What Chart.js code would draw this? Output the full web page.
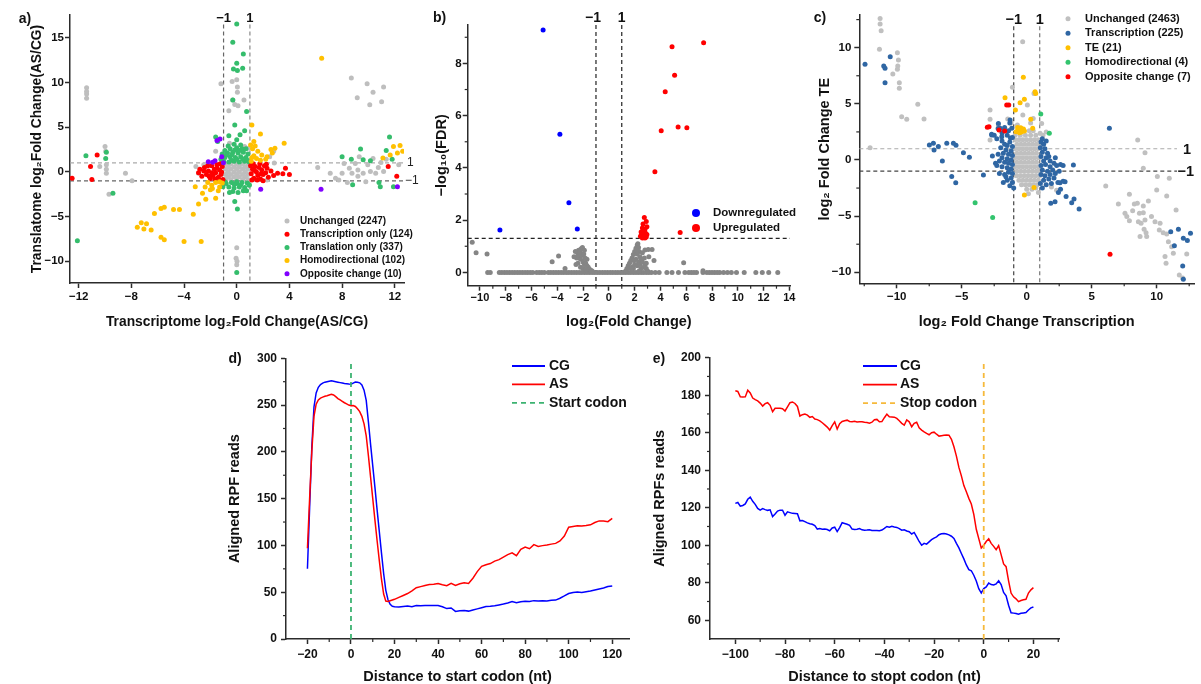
<!DOCTYPE html>
<html>
<head>
<meta charset="utf-8">
<script src="https://cdn.jsdelivr.net/npm/chart.js@4.4.0/dist/chart.umd.min.js"></script>
<style>
  body { margin: 0; background: #fff; width: 1201px; height: 684px; position: relative; overflow: hidden; }
  canvas { position: absolute; }
</style>
</head>
<body>
<canvas id="chartA" width="425" height="335" style="left:0;top:0"></canvas>
<canvas id="chartB" width="375" height="335" style="left:425px;top:0"></canvas>
<canvas id="chartC" width="401" height="335" style="left:800px;top:0"></canvas>
<canvas id="chartD" width="445" height="344" style="left:200px;top:340px"></canvas>
<canvas id="chartE" width="430" height="344" style="left:640px;top:340px"></canvas>
<script>
// ---- panel a: translatome vs transcriptome ----
const aLabels = ['Unchanged (2247)', 'Transcription only (124)', 'Translation only (337)', 'Homodirectional (102)', 'Opposite change (10)'];
const aUnchanged = [[-11.4,9.4],[-11.4,9.0],[-11.4,8.7],[-11.4,8.25],[-10.0,2.85],[-9.95,2.3],[-9.9,0.8],[-9.9,0.3],[-9.9,-0.15],[-10.4,0.6],[-8.45,-0.15],[-7.95,-1.0],[-9.7,-2.5],
  [-1.2,9.85],[-0.35,10.1],[0,10.3],[0.05,9.5],[0.05,8.9],[-0.3,8.05],[-0.15,7.55],[0.1,7.4],[-0.6,6.85],[0.55,8.05],
  [0,-8.5],[-0.05,-9.65],[0.02,-10.0],[0,-10.4],
  [8.7,10.5],[9.9,9.85],[9.15,8.3],[10.35,8.9],[10.1,7.5],[11.15,9.5],[11.0,7.85],
  [6.15,0.5],[7.1,-0.15],[7.5,-0.7],[8.0,-0.15],[8.15,0.95],[8.55,0.4],[8.75,-0.15],[9.0,0.95],[9.2,0.2],[9.3,1.7],[9.6,-0.15],[9.8,-1.1],[9.95,0.8],[10.15,0.05],[10.35,1.5],[10.55,-0.15],[10.75,0.5],[10.95,1.05],[11.15,0.05],[11.35,1.4],[12.3,0.8],[8.4,-1.2],[7.75,-0.9],[9.2,-0.5],
  [-2.9,-0.15],[-3.1,0.6],[-2.5,0.8],[2.5,1.7],[2.8,2.3],[2.85,1.0],[2.3,-0.9],[-1.6,2.3],[-0.55,3.2],[0.6,2.85],[0.9,2.65]];
const aUnchangedCore = [[-0.85,0.85],[-0.45,0.85],[0,0.85],[0.45,0.85],[0.85,0.85],[-0.65,0.55],[-0.2,0.55],[0.2,0.55],[0.65,0.55],
  [-0.85,0.3],[-0.45,0.3],[0,0.3],[0.45,0.3],[0.85,0.3],[-0.65,0],[-0.2,0],[0.2,0],[0.65,0],
  [-0.85,-0.3],[-0.45,-0.3],[0,-0.3],[0.45,-0.3],[0.85,-0.3],[-0.65,-0.55],[-0.2,-0.55],[0.2,-0.55],[0.65,-0.55],
  [-0.85,-0.85],[-0.45,-0.85],[0,-0.85],[0.45,-0.85],[0.85,-0.85]];
const aTranscription = [[-2.9,-0.1],[-2.8,0.3],[-2.65,-0.5],[-2.45,0.5],[-2.3,-0.3],[-2.15,0.1],[-2.0,-0.75],[-1.9,0.7],[-1.8,-0.4],[-1.7,0.3],[-1.6,-0.1],[-1.5,0.8],[-1.4,-0.6],[-1.3,0.2],[-1.2,-0.3],[-1.1,0.6],[-1.05,-0.85],[-1.5,0.4],[-2.2,0.7],[-1.9,-0.1],[-1.3,-0.9],[-2.5,0.1],[-1.15,0.0],[-2.1,-0.5],[-1.25,0.9],[-1.65,-0.8],
  [1.05,0.7],[1.1,-0.2],[1.2,0.3],[1.3,-0.7],[1.4,0.6],[1.5,0.0],[1.6,-0.4],[1.7,0.5],[1.8,-0.8],[1.9,0.2],[2.0,-0.3],[2.1,0.7],[2.2,-0.1],[2.3,0.4],[2.4,-0.6],[1.25,0.9],[1.55,-0.9],[1.75,0.9],[2.6,0.1],[2.8,-0.4],[3.1,-0.15],[3.5,-0.2],[3.7,0.4],[4.0,-0.3],[2.0,-1.0],[1.15,-0.9],[1.35,0.15],[1.85,-0.2],[2.25,0.85],
  [-12.5,-0.7],[-11.1,0.6],[-11.0,-0.85],[-10.6,1.9],[11.5,0.6],[12.15,-0.5]];
const aTranslation = [[0,16.55],[-0.3,14.5],[0,12.15],[0.5,13.2],[-0.25,11.5],[0.05,11.35],[0.45,11.6],[-0.3,8.05],[0.75,6.75],[-0.15,5.25],[-0.6,4.05],[0.25,4.15],[0.6,4.6],[0,3.6],[-1.6,3.9],[-1.45,3.4],[-0.15,-3.3],[0.05,-4.15],[0,-11.25],[0.75,-2.1],[-0.55,-2.3],[-1.05,-1.65],[0.95,-1.45],
  [-1.0,1.2],[-0.6,1.1],[-0.2,1.2],[0.2,1.1],[0.6,1.2],[0.95,1.1],[-0.9,1.6],[-0.5,1.7],[-0.1,1.6],[0.3,1.7],[0.7,1.6],[-0.7,2.1],[-0.3,2.2],[0.1,2.1],[0.5,2.2],[0.85,2.0],[-0.5,2.6],[0,2.7],[0.4,2.6],[-0.9,2.4],[-0.2,3.1],[0.3,3.0],[-1.2,1.4],[-1.1,2.0],[-0.8,1.9],[0,1.4],[0.45,1.45],[-0.35,1.95],[0.2,2.4],[0.7,2.6],[-0.65,2.9],[-0.4,1.3],[0.8,1.3],[-0.15,2.45],
  [-0.8,-1.3],[-0.4,-1.2],[0,-1.3],[0.4,-1.2],[0.8,-1.25],[-0.6,-1.7],[-0.2,-1.8],[0.2,-1.7],[0.6,-1.75],[-0.3,-2.2],[0.1,-2.3],[0.5,-2.1],[-0.9,-1.1],[0.95,-1.5],[0,-1.1],[-0.2,-1.35],[0.3,-1.45],
  [-11.45,1.8],[-9.9,2.2],[-9.95,1.5],[-9.4,-2.4],[-12.1,-7.7],
  [8.0,1.7],[8.7,1.4],[9.4,2.55],[9.6,1.35],[10.15,1.25],[8.8,-1.45],[10.8,-1.2],[10.9,-1.65],[11.6,3.9],[11.35,2.4],[11.8,1.4],[11.9,-1.65]];
const aHomo = [[1.15,5.25],[1.8,4.25],[3.6,3.2],[2.9,2.65],[2.3,1.7],[2.7,2.1],[1.1,1.2],[1.3,1.8],[1.2,2.6],[1.5,1.5],[1.6,2.3],[1.8,1.3],[1.05,3.0],[1.4,2.9],[1.9,1.9],[2.2,1.4],[2.6,2.5],[1.15,1.6],[1.3,3.4],
  [-1.1,-1.25],[-1.3,-1.7],[-1.6,-1.2],[-1.9,-1.5],[-2.2,-1.2],[-1.4,-2.1],[-2.0,-2.0],[-2.6,-2.4],[-1.85,-1.85],[-1.6,-2.95],[-2.35,-3.05],[-3.15,-1.65],[-2.9,-3.6],[-1.3,-1.1],[-2.4,-1.7],
  [-4.8,-4.2],[-4.35,-4.2],[-3.3,-4.75],[-6.25,-4.65],[-5.75,-4.1],[-5.5,-3.95],[-7.55,-6.2],[-7.25,-5.7],[-7.05,-6.4],[-6.85,-5.8],[-6.5,-6.5],[-5.75,-7.3],[-5.5,-7.6],[-4.0,-7.8],[-2.7,-7.8],
  [6.45,12.7],[11.9,2.85],[12.4,2.95],[12.2,2.1],[11.65,1.9],[11.1,1.55],[12.6,2.3]];
const aOpposite = [[-1.5,3.5],[-1.27,3.68],[-2.16,1.14],[-1.82,1.07],[-1.65,1.25],[-1.14,1.7],[-1.01,1.03],[1.82,-1.95],[6.4,-1.95],[12.2,-1.65]];
const aTicksX = [-12, -8, -4, 0, 4, 8, 12];
const aTicksY = [-10, -5, 0, 5, 10, 15];

// ---- panel b: volcano ----
const bLabels = ['Downregulated', 'Upregulated'];
const bDown = [[-5.1,9.28],[-3.8,5.29],[-3.1,2.67],[-2.45,1.66],[-8.45,1.62]];
const bUp = [[4.9,8.64],[7.35,8.79],[5.1,7.55],[4.37,6.91],[4.06,5.42],[5.37,5.57],[6.05,5.54],[3.57,3.85],[5.53,1.53],
  [2.75,2.1],[2.9,1.95],[2.65,1.85],[2.95,1.75],[2.6,1.7],[2.8,1.65],[2.7,1.58],[2.5,1.55],[2.85,1.5],[2.95,1.45],[2.55,1.45],[2.65,1.4],[2.45,1.38],[2.75,1.38],[2.9,1.35],[2.6,1.32],[2.8,1.32]];
const bNotSig = [[-9.4,0],[-9.2,0],[-8.5,0],[-8.3,0],[-8.1,0],[-7.9,0],[-7.7,0],[-7.5,0],[-7.3,0],[-7.1,0],[-6.9,0],[-6.7,0],[-6.5,0],[-6.3,0],[-6.1,0],[-5.9,0],[-5.6,0],[-5.4,0],[-5.2,0],[-5.0,0],[-4.7,0],[-4.5,0],[-4.3,0],[-4.1,0],[-3.9,0],[-3.7,0],[-3.5,0],[-3.3,0],[-3.1,0],[-2.9,0],[-2.7,0],[-2.5,0],[-2.3,0],[-2.1,0],[-1.9,0],[-1.7,0],[-1.5,0],[-1.3,0],[-1.1,0],[-0.9,0],[-0.7,0],[-0.5,0],[-0.3,0],[-0.1,0],[0.1,0],[0.3,0],[0.5,0],[0.7,0],[0.9,0],[1.1,0],[1.3,0],[1.5,0],[1.7,0],[1.9,0],[2.1,0],[2.3,0],[2.5,0],[2.7,0],[2.9,0],[3.1,0],[3.3,0],[3.6,0],[3.9,0],[4.5,0],[4.9,0],[5.4,0],[5.9,0],[6.2,0],[6.4,0],[6.6,0],[6.8,0],[7.3,0],[7.6,0],[7.8,0],[8.0,0],[8.2,0],[8.4,0],[8.6,0],[8.9,0],[9.2,0],[9.5,0],[9.9,0],[10.5,0],[11.4,0],[11.9,0],[12.4,0],[13.1,0],
  [-2.5,0.55],[-2.4,0.7],[-2.35,0.85],[-2.3,0.6],[-2.25,0.78],[-2.2,0.5],[-2.15,0.9],[-2.1,0.65],[-2.05,0.95],[-2.0,0.4],[-1.95,0.7],[-1.9,0.3],[-1.85,0.55],[-1.8,0.35],[-1.7,0.25],[-1.6,0.2],[-1.5,0.12],[-1.4,0.08],[-1.3,0.05],[-2.2,0.2],[-2.0,0.15],[-1.8,0.1],[-2.4,0.35],[-1.7,0.5],[-1.9,0.85],[-2.6,0.8],[-2.7,0.6],[-2.55,0.3],
  [1.3,0.05],[1.4,0.15],[1.5,0.25],[1.6,0.35],[1.7,0.45],[1.8,0.55],[1.9,0.68],[2.0,0.8],[2.1,0.92],[2.2,1.05],[2.25,1.1],[2.3,0.95],[2.35,0.8],[2.4,0.6],[2.3,0.4],[2.2,0.25],[2.1,0.5],[2.0,0.3],[1.9,0.15],[1.8,0.2],[2.2,0.7],[2.4,0.3],[2.5,0.15],[2.6,0.4],[2.7,0.2],[2.15,0.85],[1.95,0.45],[1.7,0.15],[2.35,0.05],[2.5,0.5],[2.8,0.3],[2.9,0.15],[3.0,0.05],
  [2.8,0.86],[3.05,0.88],[3.35,0.88],[2.6,0.75],[2.75,0.55],[3.1,0.6],[3.5,0.45],[2.9,0.35],
  [-10.6,1.15],[-10.3,0.75],[-9.45,0.7],[-4.4,0.41],[-3.9,0.63],[-3.4,0.15],[5.8,0.37],[7.3,0.06]];
const bTicksX = [-10, -8, -6, -4, -2, 0, 2, 4, 6, 8, 10, 12, 14];
const bTicksY = [0, 2, 4, 6, 8];

// ---- panel c: TE vs transcription ----
const cLabels = ['Unchanged (2463)', 'Transcription (225)', 'TE (21)', 'Homodirectional (4)', 'Opposite change (7)'];
const cUnchanged = [[-11.28,12.6],[-11.28,12.1],[-11.2,11.5],[-11.33,9.85],[-9.95,9.55],[-9.87,8.9],[-9.92,8.37],[-9.95,8.07],[-10.3,7.65],[-9.8,6.88],[-9.8,6.38],[-8.38,4.96],[-9.62,3.86],[-9.23,3.62],[-7.9,3.65],[-12.05,1.1],
  [8.54,1.78],[9.1,0.65],[8.97,-0.74],[10.05,-1.48],[10.97,-1.63],[6.08,-2.31],[7.05,-3.92],[7.9,-3.06],[7.56,-4.75],[7.7,-5.04],[8.15,-4.51],[8.28,-3.92],[8.51,-3.86],[8.67,-4.75],[8.97,-4.69],[9.36,-3.65],[8.97,-4.1],[7.9,-5.4],[8.59,-5.49],[8.8,-5.64],[9.1,-5.34],[9.03,-6.17],[9.18,-6.47],[9.6,-5.04],[9.87,-5.49],[10.26,-5.64],[10.2,-6.23],[10.0,-2.67],[10.77,-3.2],[11.49,-4.45],[10.5,-6.47],[10.77,-6.59],[10.9,-7.27],[10.64,-8.6],[10.72,-9.2],[11.15,-7.72],[11.28,-8.31],[11.74,-10.24],[12.0,-10.5],[12.31,-8.37],[9.23,-6.82],[8.72,-6.82],
  [-0.31,10.53],[-1.1,6.47],[0.56,5.93],[0.05,4.9],[-2.82,4.45],[-0.3,4.0],[0.5,3.7],[-2.82,3.62],[-1.46,3.65],[-2.18,3.12],[-0.72,3.12],[1.03,2.37],[1.15,3.26],[-2.82,1.78],[1.25,2.2],[1.5,2.5],[1.9,-2.4],[2.3,-2.7],[0.9,-2.9],[0.13,-3.0],[-1.2,3.3],[0.3,3.3]];
const cUnchangedCore = [[-0.6,2.6],[-0.2,2.6],[0.2,2.6],[0.5,2.6],
  [-0.9,2.2],[-0.5,2.2],[-0.1,2.2],[0.3,2.2],[0.7,2.2],
  [-0.9,1.8],[-0.6,1.8],[-0.3,1.8],[0,1.8],[0.3,1.8],[0.6,1.8],[0.9,1.8],
  [-0.75,1.4],[-0.45,1.4],[-0.15,1.4],[0.15,1.4],[0.45,1.4],[0.75,1.4],[1.05,1.4],
  [-0.9,1.0],[-0.6,1.0],[-0.3,1.0],[0,1.0],[0.3,1.0],[0.6,1.0],[0.9,1.0],
  [-0.75,0.6],[-0.45,0.6],[-0.15,0.6],[0.15,0.6],[0.45,0.6],[0.75,0.6],
  [-0.9,0.2],[-0.6,0.2],[-0.3,0.2],[0,0.2],[0.3,0.2],[0.6,0.2],[0.9,0.2],
  [-0.75,-0.2],[-0.45,-0.2],[-0.15,-0.2],[0.15,-0.2],[0.45,-0.2],[0.75,-0.2],
  [-0.9,-0.6],[-0.6,-0.6],[-0.3,-0.6],[0,-0.6],[0.3,-0.6],[0.6,-0.6],[0.9,-0.6],
  [-0.75,-1.0],[-0.45,-1.0],[-0.15,-1.0],[0.15,-1.0],[0.45,-1.0],[0.75,-1.0],[1.0,-1.0],
  [-0.8,-1.4],[-0.5,-1.4],[-0.2,-1.4],[0.1,-1.4],[0.4,-1.4],[0.7,-1.4],[1.0,-1.4],
  [-0.6,-1.8],[-0.3,-1.8],[0,-1.8],[0.3,-1.8],[0.6,-1.8],[0.9,-1.8],
  [-0.4,-2.2],[-0.1,-2.2],[0.2,-2.2],[0.5,-2.2],[0.8,-2.2],
  [0,-2.6],[0.4,-2.6],[0.7,-2.5]];
const cTranscription = [[-12.44,8.52],[-10.5,9.2],[-11.0,8.37],[-10.9,8.16],[-10.9,6.88],[-7.49,1.34],[-7.18,1.48],[-7.13,0.89],[-6.8,1.19],[-6.15,1.48],[-5.64,1.48],[-5.44,1.31],[-6.49,-0.09],[-5.77,-1.48],[-5.46,-2.02],[-4.87,0.65],[-4.41,0.24],[-3.33,-1.34],[6.36,2.82],
  [1.85,-3.86],[2.18,-3.71],[3.03,-3.26],[3.46,-3.8],[3.64,-3.47],[4.03,-4.36],[3.59,-0.45],[2.44,-2.9],[2.56,-2.02],[2.95,-1.93],
  [11.08,-6.38],[11.67,-6.17],[12.05,-6.97],[12.36,-7.18],[12.6,-6.53],[11.36,-7.63],[12.0,-9.44],[12.05,-10.62],
  [-2.18,3.26],[-2.05,2.82],[-2.69,2.23],[-1.28,3.56],[-1.74,2.67],[-1.15,2.82],[-1.92,2.08],[-2.64,0.36],
  [-1.1,2.0],[-1.3,1.6],[-1.1,1.2],[-1.5,1.3],[-1.2,0.8],[-1.6,0.9],[-1.1,0.4],[-1.4,0.5],[-1.8,0.6],[-1.2,0.0],[-1.5,0.1],[-1.9,0.2],[-1.1,-0.4],[-1.4,-0.3],[-1.7,-0.2],[-2.1,-0.1],[-1.2,-0.8],[-1.5,-0.7],[-1.9,-0.6],[-1.1,-1.2],[-1.4,-1.1],[-1.7,-1.3],[-1.2,-1.6],[-1.5,-1.8],[-1.1,-2.0],[-1.3,-2.3],[-2.4,-0.3],[-2.2,0.5],[-1.7,1.4],[-2.0,1.1],[-1.9,1.7],[-2.3,1.9],[-1.5,2.2],[-2.1,-1.2],[-1.8,-2.0],[-1.0,-2.5],[-1.4,2.6],[-1.9,2.4],[-2.5,2.2],[-1.3,3.3],[-1.7,2.9],[-2.2,2.8],[-2.7,2.3],[-2.3,-0.5],[-1.6,-1.5],[-1.25,1.95],
  [1.1,1.6],[1.3,1.4],[1.05,1.1],[1.4,1.0],[1.2,0.7],[1.6,0.6],[1.1,0.3],[1.5,0.2],[1.3,-0.1],[1.8,-0.1],[1.1,-0.5],[1.45,-0.4],[1.8,-0.6],[2.1,-0.3],[1.2,-0.9],[1.6,-1.0],[2.0,-0.9],[1.1,-1.3],[1.4,-1.4],[1.8,-1.3],[2.2,-1.2],[1.3,-1.8],[1.7,-1.7],[2.1,-1.6],[1.5,-2.2],[1.9,-2.1],[2.4,-2.0],[1.2,-2.5],[2.6,-2.6],[2.3,-0.5],[1.7,0.3],[2.5,-1.0],[2.8,-1.9],[2.2,0.2],[2.6,-0.4],[2.8,-0.5],[1.05,-2.1],[1.2,1.9],[1.5,1.7]];
const cTE = [[-0.26,7.36],[-1.67,5.55],[-0.18,5.4],[-0.51,5.1],[-0.87,4.45],[0.64,6.08],[0.69,5.93],[0.31,3.62],[0.46,2.82],[-0.69,2.6],[-0.46,2.88],[-0.31,2.67],[-0.56,2.43],[-0.18,2.58],[-0.82,2.52],[-0.64,2.82],[-0.18,-3.12],[0.56,-2.46],[-0.4,2.5],[-0.7,2.9],[-0.25,2.75]];
const cHomo = [[1.08,4.1],[1.74,2.37],[-3.97,-3.8],[-2.62,-5.13]];
const cOpposite = [[-3.03,2.91],[-2.9,2.97],[-1.54,4.9],[-1.38,4.9],[-2.13,2.67],[-1.69,2.58],[6.41,-8.4]];
const cTicksX = [-10, -5, 0, 5, 10];
const cTicksY = [-10, -5, 0, 5, 10];

// ---- panel d: metagene around start codon ----
const dLabels = ['CG', 'AS', 'Start codon'];
const dPos = [-20,-19,-18,-17,-16,-15,-14,-13,-12,-11,-10,-9,-8,-7,-6,-5,-4,-3,-2,-1,0,1,2,3,4,5,6,7,8,9,10,11,12,13,14,15,16,17,18,19,20,
  22,24,26,28,30,32,34,36,38,40,42,44,46,48,50,52,54,56,58,60,62,64,66,68,70,72,74,76,78,80,82,84,86,88,90,92,94,96,98,100,102,104,106,108,110,112,114,116,118,120];
const dCG = [75,140,205,248,263,269,272,273.5,274.5,275,275.5,276,275.5,275,274.5,274,273.5,273,272.8,272.5,272.3,273.5,274.6,274.5,273.8,271.5,266,255,232,208,185,162,138,115,92,70,52,42,37,35,34.5,
  34.3,34.8,35.2,34.6,35.8,35.6,35.7,35.9,35.8,35.9,34.5,32.5,33.2,29.5,30.1,30.4,29.8,31.0,32.2,33.5,34.8,35.0,35.6,36.4,37.3,38.4,40.0,38.7,39.8,40.3,40.1,41.0,40.6,40.8,40.5,41.4,41.6,43.6,46.0,48.6,49.8,50.2,49.6,50.5,51.2,52.4,53.4,54.5,56.0,56.6];
const dAS = [97,150,200,238,251,255.5,257.5,258.5,259.5,260,260.8,261.5,260.8,259,257,255.5,254,252.5,251.3,250,249.2,249.5,248.5,246,243,238,230,217,196,173,150,127,105,84,64,48,40.5,40,40.8,41.6,42.4,
  44.5,46.5,48.6,51.5,54.8,56.0,57.2,58.2,58.6,59.2,58.0,57.0,59.5,57.2,59.0,60.0,59.3,65.0,72.0,77.6,79.4,80.6,83.2,84.8,87.5,90.2,92.0,89.0,95.8,98.3,96.5,100.9,99.0,99.8,100.5,101.4,102.2,104.8,110.0,119.5,120.2,121.0,120.8,121.3,122.0,124.5,126.2,126.0,125.4,129.0];
const dCodonX = [0, 0];
const dCodonY = [0, 297];
const dTicksX = [-20, 0, 20, 40, 60, 80, 100, 120];
const dTicksY = [0, 50, 100, 150, 200, 250, 300];

// ---- panel e: metagene around stop codon ----
const eLabels = ['CG', 'AS', 'Stop codon'];
const ePos = [-100,-99,-98,-97,-96,-95,-94,-93,-92,-91,-90,-89,-88,-87,-86,-85,-84,-83,-82,-81,-80,-79,-78,-77,-76,-75,-74,-73,-72,-71,-70,-69,-68,-67,-66,-65,-64,-63,-62,-61,-60,-59,-58,-57,-56,-55,-54,-53,-52,-51,-50,-49,-48,-47,-46,-45,-44,-43,-42,-41,-40,-39,-38,-37,-36,-35,-34,-33,-32,-31,-30,-29,-28,-27,-26,-25,-24,-23,-22,-21,-20,-19,-18,-17,-16,-15,-14,-13,-12,-11,-10,-9,-8,-7,-6,-5,-4,-3,-2,-1,0,1,2,3,4,5,6,7,8,9,10,11,12,13,14,15,16,17,18,19,20];
const eCG = [122.3,122.8,120.8,121.2,122.0,124.5,125.6,123.4,121.8,119.6,118.7,119.5,119.0,118.6,118.9,115.3,116.6,118.2,118.7,118.7,116.0,117.8,117.4,117.0,116.9,116.8,113.0,113.2,112.6,111.9,111.5,111.2,110.5,108.6,108.9,108.5,108.7,108.4,107.7,109.2,109.6,107.3,109.4,112.0,111.6,111.2,110.6,108.6,108.4,108.5,108.9,108.2,108.0,108.1,108.3,107.9,107.8,107.9,107.7,108.1,109.0,110.0,109.6,110.1,109.7,109.5,108.9,108.0,108.2,107.6,107.2,106.0,106.8,104.5,102.0,100.0,101.0,100.6,101.8,103.0,103.8,104.5,105.6,106.1,106.3,106.0,105.5,104.8,103.6,101.0,98.6,95.6,92.7,89.5,87.0,86.4,84.0,80.9,76.8,74.5,76.9,77.8,79.8,79.0,78.8,79.4,81.0,79.0,74.8,73.0,68.0,64.0,63.8,63.6,63.2,63.7,63.9,64.1,65.5,66.6,67.1];
const eAS = [182.4,182.0,179.2,179.0,179.1,182.7,181.2,178.5,177.6,177.0,175.8,174.2,175.5,176.0,174.6,171.2,173.0,173.1,173.0,172.8,171.6,173.8,176.0,176.4,175.6,174.0,168.9,169.6,170.0,169.4,168.2,168.6,167.3,167.0,166.3,165.3,164.2,163.0,161.4,163.8,165.8,162.0,164.8,166.0,166.4,166.7,166.0,165.8,166.1,165.7,165.8,165.9,165.6,165.4,165.1,165.6,166.9,167.1,165.8,165.9,168.0,169.9,168.5,168.4,168.3,167.6,166.4,165.0,164.0,166.8,165.8,163.2,165.0,165.6,162.6,161.4,160.4,159.6,158.9,160.0,160.3,159.2,158.2,158.4,158.6,158.8,158.7,156.5,152.5,147.5,141.5,137.0,131.8,128.5,125.0,122.0,116.5,108.5,103.5,98.5,100.0,102.0,103.4,101.0,99.4,97.6,99.8,95.0,90.0,88.6,81.0,74.5,72.5,71.4,69.9,70.5,70.9,71.2,74.5,76.2,77.4];
const eCodonX = [0, 0];
const eCodonY = [50, 198.5];
const eTicksX = [-100, -80, -60, -40, -20, 0, 20];
const eTicksY = [60, 80, 100, 120, 140, 160, 180, 200];

// ---- shared setup ----
const FONT = '"Liberation Sans", Arial, sans-serif';
const AXIS = '#2b2b2b';
Chart.defaults.font.family = FONT;

function fmt(v) { return v < 0 ? '\u2212' + Math.abs(v) : String(v); }
function toXY(list) { return list.map(p => ({ x: p[0], y: p[1] })); }
function zipXY(xs, ys) { return xs.map((x, i) => ({ x: x, y: ys[i] })); }

function pts(label, list, color, order, r) {
  return { label: label, data: toXY(list), backgroundColor: color, borderColor: color,
    pointRadius: r || 2.5, pointBorderWidth: 0, order: order };
}
function line(label, data, color, width, dash, order) {
  return { label: label, data: data, showLine: true, borderColor: color, backgroundColor: color,
    borderWidth: width, borderDash: dash || [], pointRadius: 0, tension: 0, order: order };
}

function axisCfg(o, pos) {
  return {
    type: 'linear', position: pos, min: o.min, max: o.max,
    afterBuildTicks: s => { s.ticks = o.ticks.map(v => ({ value: v })); },
    afterFit: s => { if (pos === 'left') s.width = o.size; else s.height = o.size; },
    border: { display: true, color: AXIS, width: 1.5 },
    grid: { display: true, drawOnChartArea: false, drawTicks: true, tickLength: 5, tickColor: AXIS, tickWidth: 1.5 },
    ticks: { autoSkip: false, maxRotation: 0, padding: o.pad, color: '#111',
      font: { size: o.font, weight: 'bold' }, callback: v => fmt(v) },
    title: { display: true, text: o.title, color: '#111', font: { size: o.titleSize || 14.5, weight: 'bold' },
      padding: pos === 'left' ? { top: o.titlePad, bottom: 0 } : { top: 0, bottom: o.titlePad } }
  };
}

function options(cfg) {
  return {
    responsive: false, animation: false, events: [],
    layout: { padding: { left: 0, top: cfg.top, right: cfg.right, bottom: 0 } },
    plugins: { legend: { display: false }, tooltip: { enabled: false }, overlay: cfg.overlay },
    scales: { x: axisCfg(cfg.x, 'bottom'), y: axisCfg(cfg.y, 'left') }
  };
}

function refLine(chart, l) {
  const sx = chart.scales.x, sy = chart.scales.y, ctx = chart.ctx;
  ctx.save();
  ctx.strokeStyle = l.color;
  ctx.lineWidth = l.width || 1.2;
  ctx.setLineDash(l.dash || [4, 3]);
  ctx.beginPath();
  if (l.axis === 'x') {
    const p = sx.getPixelForValue(l.value);
    ctx.moveTo(p, sy.getPixelForValue(l.to !== undefined ? l.to : sy.max));
    ctx.lineTo(p, sy.getPixelForValue(l.from !== undefined ? l.from : sy.min));
  } else {
    const p = sy.getPixelForValue(l.value);
    ctx.moveTo(sx.getPixelForValue(l.from !== undefined ? l.from : sx.min), p);
    ctx.lineTo(sx.getPixelForValue(l.to !== undefined ? l.to : sx.max), p);
  }
  ctx.stroke();
  ctx.restore();
}

// reference lines, minor ticks, annotations and the legend
const overlay = {
  id: 'overlay',
  beforeDatasetsDraw(chart, args, o) { (o.refLines || []).forEach(l => refLine(chart, l)); },
  afterDraw(chart, args, o) {
    const ctx = chart.ctx, area = chart.chartArea;
    const sx = chart.scales.x, sy = chart.scales.y;
    ctx.save();
    ctx.strokeStyle = AXIS;
    ctx.lineWidth = 1.2;
    (o.minorX || []).forEach(v => {
      const p = sx.getPixelForValue(v);
      ctx.beginPath(); ctx.moveTo(p, area.bottom); ctx.lineTo(p, area.bottom + 3); ctx.stroke();
    });
    (o.minorY || []).forEach(v => {
      const p = sy.getPixelForValue(v);
      ctx.beginPath(); ctx.moveTo(area.left - 3, p); ctx.lineTo(area.left, p); ctx.stroke();
    });
    ctx.textBaseline = 'middle';
    (o.texts || []).forEach(t => {
      ctx.font = t.font;
      ctx.fillStyle = t.color || '#111';
      ctx.textAlign = t.align || 'center';
      const x = t.dataX !== undefined ? sx.getPixelForValue(t.dataX) + (t.dx || 0) : t.x;
      const y = t.dataY !== undefined ? sy.getPixelForValue(t.dataY) + (t.dy || 0) : t.y;
      ctx.fillText(t.text, x, y);
    });
    const lg = o.legend;
    if (lg) {
      chart.data.datasets.slice(0, lg.count || chart.data.datasets.length).forEach((d, i) => {
        const y = lg.y + i * lg.step;
        if (lg.kind === 'line') {
          ctx.strokeStyle = d.borderColor;
          ctx.lineWidth = 1.8;
          ctx.setLineDash(d.borderDash || []);
          ctx.beginPath(); ctx.moveTo(lg.x1, y); ctx.lineTo(lg.x2, y); ctx.stroke();
          ctx.setLineDash([]);
        } else {
          ctx.fillStyle = d.backgroundColor;
          ctx.beginPath(); ctx.arc(lg.x, y, lg.r, 0, Math.PI * 2); ctx.fill();
        }
        ctx.fillStyle = '#111';
        ctx.font = lg.font;
        ctx.textAlign = 'left';
        ctx.fillText(d.label, lg.textX, y);
      });
    }
    ctx.restore();
  }
};
Chart.register(overlay);

const bold = s => 'bold ' + s + 'px ' + FONT;
const plain = s => s + 'px ' + FONT;

// ---- a ----
new Chart(document.getElementById('chartA'), {
  type: 'scatter',
  data: { datasets: [
    pts(aLabels[0], aUnchanged.concat(aUnchangedCore), '#bebebe', 5),
    pts(aLabels[1], aTranscription, '#ff0000', 2),
    pts(aLabels[2], aTranslation, '#35bd6c', 3),
    pts(aLabels[3], aHomo, '#ffc000', 1),
    pts(aLabels[4], aOpposite, '#8000ff', 0)
  ] },
  options: options({
    top: 15, right: 21,
    x: { min: -12.66, max: 12.7, ticks: aTicksX, size: 52, pad: 2, font: 11.5, titlePad: 4.6, titleSize: 13.8,
      title: 'Transcriptome log\u2082Fold Change(AS/CG)' },
    y: { min: -12.43, max: 17.55, ticks: aTicksY, size: 70, pad: 1, font: 11.5, titlePad: 28.7, titleSize: 13.8,
      title: 'Translatome log\u2082Fold Change(AS/CG)' },
    overlay: {
      refLines: [
        { axis: 'x', value: -1, to: 16.5, color: '#666' },
        { axis: 'x', value: 1, to: 16.5, color: '#888' },
        { axis: 'y', value: 1, color: '#aaa' },
        { axis: 'y', value: -1, color: '#666' }
      ],
      texts: [
        { text: 'a)', x: 25, y: 19, font: bold(14) },
        { text: '\u22121', dataX: -1, y: 18, font: bold(13) },
        { text: '1', dataX: 1, y: 18, font: bold(13) },
        { text: '1', x: 407, dataY: 1, align: 'left', font: plain(12), color: '#222' },
        { text: '\u22121', x: 405, dataY: -1, align: 'left', font: plain(12), color: '#222' }
      ],
      legend: { kind: 'point', x: 287, r: 2.5, textX: 300, y: 221, step: 13.2, font: bold(10) }
    }
  })
});

// ---- b ----
new Chart(document.getElementById('chartB'), {
  type: 'scatter',
  data: { datasets: [
    pts(bLabels[0], bDown, '#0000ff', 0),
    pts(bLabels[1], bUp, '#ff0000', 1),
    pts('', bNotSig, '#858585', 5)
  ] },
  options: options({
    top: 25, right: 10,
    x: { min: -10.95, max: 14.05, ticks: bTicksX, size: 49.3, pad: 1, font: 11, titlePad: 4.3,
      title: 'log\u2082(Fold Change)' },
    y: { min: -0.51, max: 9.47, ticks: bTicksY, size: 42.7, pad: 1, font: 11.5, titlePad: 8,
      title: '\u2212log\u2081\u2080(FDR)' },
    overlay: {
      refLines: [
        { axis: 'x', value: -1, color: '#222' },
        { axis: 'x', value: 1, color: '#222' },
        { axis: 'y', value: 1.3, color: '#222' }
      ],
      minorX: [-9, -7, -5, -3, -1, 1, 3, 5, 7, 9, 11, 13],
      minorY: [1, 3, 5, 7, 9],
      texts: [
        { text: 'b)', x: 14.5, y: 18, font: bold(14) },
        { text: '\u22121', dataX: -1, dx: -3, y: 18, font: bold(14) },
        { text: '1', dataX: 1, y: 18, font: bold(14) }
      ],
      legend: { kind: 'point', count: 2, x: 271, r: 4, textX: 288, y: 213, step: 15, font: bold(11.5) }
    }
  })
});

// ---- c ----
new Chart(document.getElementById('chartC'), {
  type: 'scatter',
  data: { datasets: [
    pts(cLabels[0], cUnchanged.concat(cUnchangedCore), '#c0c0c0', 5),
    pts(cLabels[1], cTranscription, '#2f66a3', 3),
    pts(cLabels[2], cTE, '#ffc000', 1),
    pts(cLabels[3], cHomo, '#33c46e', 0),
    pts(cLabels[4], cOpposite, '#ff0000', 0)
  ] },
  options: options({
    top: 15, right: 7,
    x: { min: -12.88, max: 12.87, ticks: cTicksX, size: 51.7, pad: 2, font: 11.5, titlePad: 4.3,
      title: 'log\u2082 Fold Change Transcription' },
    y: { min: -10.98, max: 12.91, ticks: cTicksY, size: 59.3, pad: 3, font: 11.5, titlePad: 16.3,
      title: 'log\u2082 Fold Change TE' },
    overlay: {
      refLines: [
        { axis: 'x', value: -1, to: 11.9, color: '#444' },
        { axis: 'x', value: 1, to: 11.9, color: '#777' },
        { axis: 'y', value: 1, to: 11.56, color: '#aaa' },
        { axis: 'y', value: -1, to: 11.56, color: '#444' }
      ],
      minorX: [-12.5, -7.5, -2.5, 2.5, 7.5, 12.5],
      minorY: [-7.5, -2.5, 2.5, 7.5, 12.5],
      texts: [
        { text: 'c)', x: 20, y: 18, font: bold(14) },
        { text: '\u22121', dataX: -1, y: 20, font: bold(14.5) },
        { text: '1', dataX: 1, y: 20, font: bold(14.5) },
        { text: '1', x: 391, dataY: 1, dy: 1, align: 'right', font: bold(14.5) },
        { text: '\u22121', x: 394, dataY: -1, dy: 1, align: 'right', font: bold(14.5) }
      ],
      legend: { kind: 'point', x: 268, r: 2.5, textX: 285, y: 18.7, step: 14.5, font: bold(11) }
    }
  })
});

// ---- d ----
new Chart(document.getElementById('chartD'), {
  type: 'scatter',
  data: { datasets: [
    line(dLabels[0], zipXY(dPos, dCG), '#0000ff', 1.5, [], 2),
    line(dLabels[1], zipXY(dPos, dAS), '#ff0000', 1.5, [], 1),
    line(dLabels[2], zipXY(dCodonX, dCodonY), '#3cb371', 1.8, [5, 4], 0)
  ] },
  options: options({
    top: 18.3, right: 16,
    x: { min: -29.85, max: 127.7, ticks: dTicksX, size: 45, pad: 3, font: 12, titlePad: -1.5,
      title: 'Distance to start codon (nt)' },
    y: { min: 0, max: 300, ticks: dTicksY, size: 86, pad: 4, font: 12, titlePad: 26.3,
      title: 'Aligned RPF reads' },
    overlay: {
      minorX: [-10, 10, 30, 50, 70, 90, 110],
      minorY: [25, 75, 125, 175, 225, 275],
      texts: [{ text: 'd)', x: 35, y: 19, font: bold(14) }],
      legend: { kind: 'line', x1: 312, x2: 345, textX: 349, y: 26, step: 18.4, font: bold(14) }
    }
  })
});

// ---- e ----
new Chart(document.getElementById('chartE'), {
  type: 'scatter',
  data: { datasets: [
    line(eLabels[0], zipXY(ePos, eCG), '#0000ff', 1.5, [], 2),
    line(eLabels[1], zipXY(ePos, eAS), '#ff0000', 1.5, [], 1),
    line(eLabels[2], zipXY(eCodonX, eCodonY), '#f6b93b', 1.8, [5, 4], 0)
  ] },
  options: options({
    top: 17.7, right: 11,
    x: { min: -110.2, max: 30.3, ticks: eTicksX, size: 45, pad: 3, font: 12, titlePad: -1.5,
      title: 'Distance to stopt codon (nt)' },
    y: { min: 50, max: 200, ticks: eTicksY, size: 70, pad: 4, font: 12, titlePad: 11.3,
      title: 'Aligned RPFs reads' },
    overlay: {
      minorX: [-90, -70, -50, -30, -10, 10, 30],
      minorY: [70, 90, 110, 130, 150, 170, 190],
      texts: [{ text: 'e)', x: 19, y: 19, font: bold(14) }],
      legend: { kind: 'line', x1: 223, x2: 257, textX: 260, y: 26, step: 18.6, font: bold(14) }
    }
  })
});
</script>
</body>
</html>
